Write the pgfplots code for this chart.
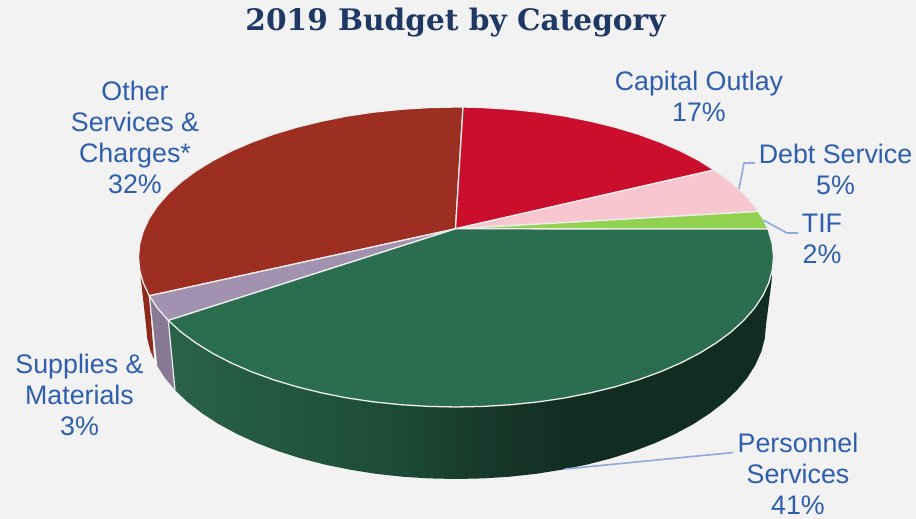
\documentclass[border=0pt]{standalone}
\usepackage{fontspec}
\setmainfont{Liberation Sans}
\newfontfamily\titlefont{DejaVu Serif}
\usepackage{pgfplots}
\pgfplotsset{compat=1.18}
\definecolor{bg}{HTML}{F2F2F2}
\definecolor{lab}{HTML}{2F5EAC}
\definecolor{ttl}{HTML}{1F3864}
\definecolor{rim}{HTML}{EDEDED}
\definecolor{brownT}{HTML}{9C2F21}
\definecolor{redT}{HTML}{CC0E2D}
\definecolor{pinkT}{HTML}{F7C6CF}
\definecolor{limeT}{HTML}{92D050}
\definecolor{greenT}{HTML}{2B6E4F}
\definecolor{lilacT}{HTML}{A391B0}
\definecolor{lilacW}{HTML}{887A94}
\definecolor{brownW}{HTML}{8C2A1C}
\definecolor{leader}{HTML}{8FAADC}
\definecolor{wa}{HTML}{2A6249}
\definecolor{wb}{HTML}{22553E}
\definecolor{wc}{HTML}{1D4A37}
\definecolor{wd}{HTML}{163628}
\definecolor{we}{HTML}{112C21}
\pgfdeclarehorizontalshading{wallg}{100bp}{color(0bp)=(wa); color(25bp)=(wa); color(35.9bp)=(wb); color(44.2bp)=(wc); color(52.5bp)=(wd); color(59.1bp)=(we); color(100bp)=(we)}
\tikzset{
  slice/.style={draw=rim, line width=1.3pt},
  lbl/.style={font=\fontsize{26.8}{31}\selectfont, text=lab, align=center, inner sep=0pt, anchor=center},
}
\begin{document}
\begin{tikzpicture}
\begin{axis}[
  scale only axis, width=916pt, height=519pt,
  xmin=0, xmax=916, ymin=0, ymax=519, y dir=reverse,
  hide axis,
  every axis plot/.append style={no markers, line join=round},
]
% background
\addplot[fill=bg, draw=none] coordinates {(0,0) (916,0) (916,519) (0,519)} --cycle;
% brown wall
\addplot[fill=brownW, draw=none] coordinates {(149.3,295.8) (143.3,283) (140.5,276) (146,325) (147.2,338.4) (150.7,351.7) (154,359) } --cycle;
% lilac wall
\addplot[fill=lilacW, draw=none] coordinates {(168.3,320.4) (157.6,308.3) (149.3,295.8) (156.6,364.9) (164.7,377.7) (175,390.1)} --cycle;
% green wall
\addplot[shading=wallg, draw=none] coordinates {
 (168.3,320.4) (181,332) (195.9,343) (212.8,353.4) (231.5,363.1) (251.9,371.9) (273.9,379.9) (297.2,386.9) (321.8,392.9) (347.4,398) (373.8,401.9) (400.9,404.7) (428.3,406.4) (456,407)
 (483.7,406.4) (511.1,404.7) (538.2,401.9) (564.6,398) (590.2,392.9) (614.8,386.9) (638.1,379.9) (660.1,371.9) (680.5,363.1) (699.2,353.4) (716.1,343) (731,332) (743.7,320.4) (754.4,308.3) (762.7,295.8) (768.7,283) (772.3,270.1)
 (771.5,282) (766,325) (764.8,338.4) (761.3,351.7) (755.4,364.9) (747.3,377.7) (737,390.1) (724.5,402) (709.9,413.3) (693.5,424) (675.2,433.9) (655.3,443) (633.8,451.2) (611,458.4) (587,464.6) (562,469.7) (536.2,473.8) (509.8,476.7) (483,478.4) (456,479)
 (429,478.4) (402.2,476.7) (375.8,473.8) (350,469.7) (325,464.6) (301,458.4) (278.2,451.2) (256.7,443) (236.8,433.9) (218.5,424) (202.1,413.3) (187.5,402) (175,390.1)
} --cycle;
% top: brown
\addplot[fill=brownT, slice] coordinates {(455.5,228.8) (149.3,295.8) (143.3,283) (139.7,270.1) (138.5,257) (139.7,243.9) (143.3,231) (149.3,218.2) (157.6,205.7) (168.3,193.6) (181,182) (195.9,171) (212.8,160.6) (231.5,150.9) (251.9,142.1) (273.9,134.1) (297.2,127.1) (321.8,121.1) (347.4,116) (373.8,112.1) (400.9,109.3) (428.3,107.6) (456,107) (463,107)} --cycle;
% top: red
\addplot[fill=redT, slice] coordinates {(455.5,228.8) (463,107) (483.7,107.6) (511.1,109.3) (538.2,112.1) (564.6,116) (590.2,121.1) (614.8,127.1) (638.1,134.1) (660.1,142.1) (680.5,150.9) (699.2,160.6) (714,170)} --cycle;
% top: pink
\addplot[fill=pinkT, slice] coordinates {(455.5,228.8) (714,170) (731,182) (743.7,193.6) (754.4,205.7) (758,211.5)} --cycle;
% top: lime
\addplot[fill=limeT, slice] coordinates {(455.5,228.8) (758,211.5) (762.7,218.2) (768,229)} --cycle;
% top: lilac
\addplot[fill=lilacT, slice] coordinates {(455.5,228.8) (168.3,320.4) (157.6,308.3) (149.3,295.8)} --cycle;
% top: green
\addplot[fill=greenT, slice] coordinates {(455.5,228.8) (768,229) (772.3,243.9) (773.5,257) (772.3,270.1) (768.7,283) (762.7,295.8) (754.4,308.3) (743.7,320.4) (731,332) (716.1,343) (699.2,353.4) (680.5,363.1) (660.1,371.9) (638.1,379.9) (614.8,386.9) (590.2,392.9) (564.6,398) (538.2,401.9) (511.1,404.7) (483.7,406.4) (456,407) (428.3,406.4) (400.9,404.7) (373.8,401.9) (347.4,398) (321.8,392.9) (297.2,386.9) (273.9,379.9) (251.9,371.9) (231.5,363.1) (212.8,353.4) (195.9,343) (181,332) (168.3,320.4)} --cycle;
% wall edges
\addplot[rim, line width=1.2pt] coordinates {(168.3,320.4) (175,390.1)};
\addplot[rim, line width=1.2pt] coordinates {(149.3,295.8) (156.6,364.9)};
% leaders
\addplot[leader, line width=1.6pt] coordinates {(739,189) (744,163) (755,163)};
\addplot[leader, line width=1.6pt] coordinates {(763,220) (787,233) (798,233)};
\addplot[leader, line width=1.6pt] coordinates {(565,469) (733,452.5)};
% text
\node[font=\titlefont\bfseries\fontsize{29.6}{34}\selectfont, text=ttl, inner sep=0pt] at (axis cs:455.5,22.5) {2019 Budget by Category};
\node[lbl] at (axis cs:135,137.5) {Other\\Services \&\\Charges*\\32\%};
\node[lbl] at (axis cs:699,96.5) {Capital Outlay\\17\%};
\node[lbl] at (axis cs:835.5,169.5) {Debt Service\\5\%};
\node[lbl] at (axis cs:822,239) {TIF\\2\%};
\node[lbl] at (axis cs:79.5,395) {Supplies \&\\Materials\\3\%};
\node[lbl] at (axis cs:798,474.3) {Personnel\\Services\\41\%};
\end{axis}
\end{tikzpicture}
\end{document}
